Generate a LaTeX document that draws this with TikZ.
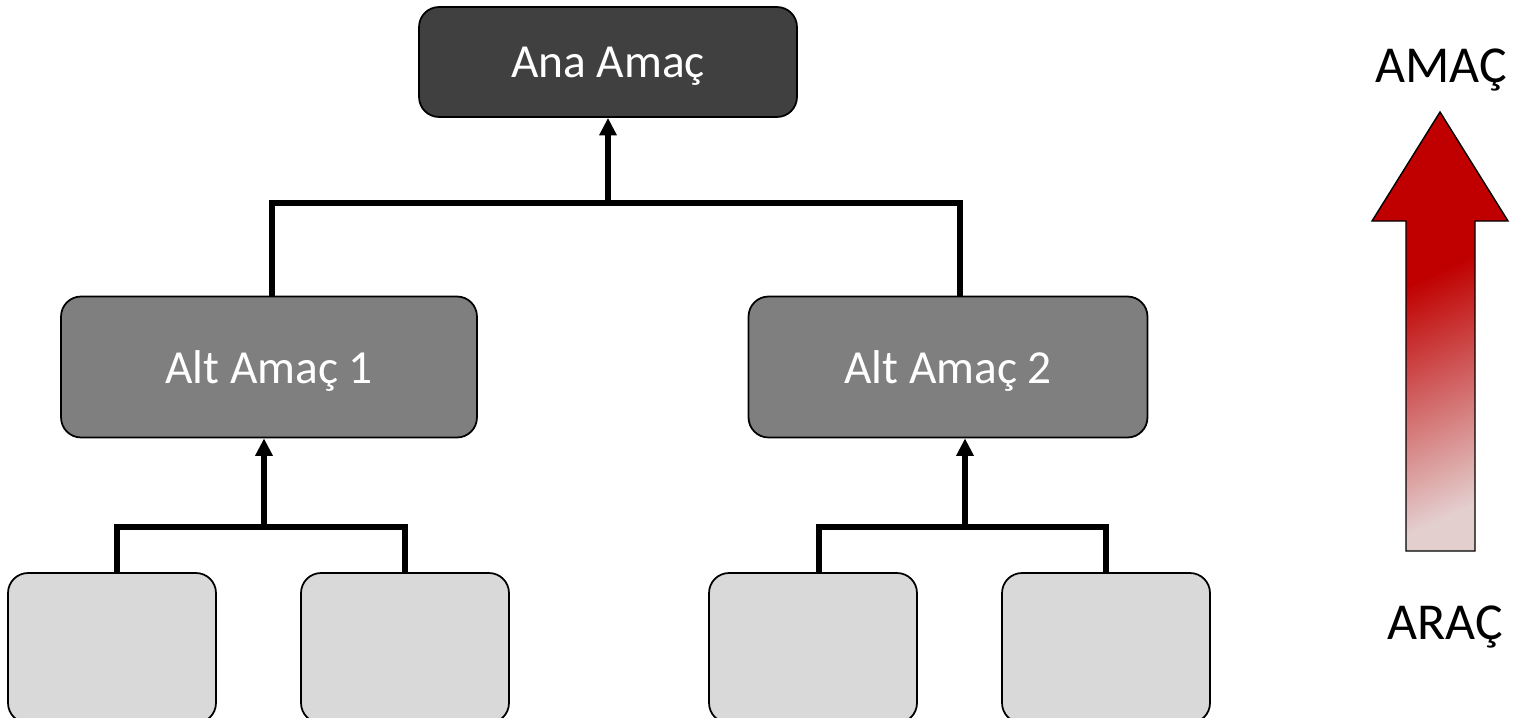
\documentclass[tikz,border=0pt]{standalone}
\usepackage{fontspec}
\setmainfont{Carlito}
\usetikzlibrary{arrows.meta,calc}

\definecolor{anagray}{HTML}{404040}
\definecolor{altgray}{HTML}{7F7F7F}
\definecolor{leafgray}{HTML}{D9D9D9}
\definecolor{amacred}{HTML}{C00000}
\definecolor{aracpink}{HTML}{E4CFCF}
\pgfdeclareverticalshading{redfade}{100bp}{color(0bp)=(aracpink); color(25bp)=(aracpink); color(58bp)=(amacred); color(100bp)=(amacred)}

\begin{document}
\begin{tikzpicture}[x=0.02cm,y=-0.02cm]
        \useasboundingbox (0,0) rectangle (1520,717);
        \tikzstyle{every path}=[line width=3.2pt]

        \edef\boxradius{0.4cm}
        \tikzstyle{goal}=[draw,line width=1pt,rounded corners=\boxradius,inner sep=0pt,text depth=0pt,text=white,font=\fontsize{27}{32}\selectfont]
        \tikzstyle{ana}=[goal,fill=anagray,minimum width=7.56cm,minimum height=2.2cm]
        \tikzstyle{alt}=[goal,fill=altgray,minimum height=2.82cm]
        \tikzstyle{leaf}=[goal,fill=leafgray,minimum width=4.16cm,minimum height=3cm]
        \tikzstyle{side}=[text depth=0pt,font=\fontsize{29.5}{34}\selectfont]
        \tikzstyle{up}=[-{Triangle[width=9.5pt,length=10pt]}]

        \node [ana] (ana) at (608,62) {Ana Amaç};
        \node [alt,minimum width=8.32cm] (alt1) at (269,367) {Alt Amaç 1};
        \node [alt,minimum width=7.98cm] (alt2) at (948,367) {Alt Amaç 2};

        \foreach \x/\n in {112/1, 405/2, 813/3, 1106/4} {
            \node [leaf] (leaf\n) at (\x,648) {};
        };

        \coordinate (topjoin) at (608,203);
        \coordinate (join1) at (264,527);
        \coordinate (join2) at (965,527);

        \draw ($(alt1.north)+(3,0)$) |- (topjoin) -| ($(alt2.north)+(12,0)$);   % alt -> ana
        \draw[up] (topjoin) -- (topjoin |- ana.south);
        \draw ($(leaf1.north)+(5,0)$) |- (join1) -| (leaf2.north);             % leaves -> alt 1
        \draw[up] (join1) -- (join1 |- alt1.south);
        \draw ($(leaf3.north)+(6,0)$) |- (join2) -| (leaf4.north);             % leaves -> alt 2
        \draw[up] (join2) -- (join2 |- alt2.south);

        % arac -> amac
        \shade[shading=redfade,shading angle=25,draw=black,line width=0.8pt]
            (1406,551) -- (1406,221) -- (1372,221) -- (1440,112) -- (1508,221)
            -- (1475,221) -- (1475,551) -- cycle;
        \node [side] (amac) at (1441,66) {AMAÇ};
        \node [side] (arac) at (1445,623) {ARAÇ};
\end{tikzpicture}
\end{document}
